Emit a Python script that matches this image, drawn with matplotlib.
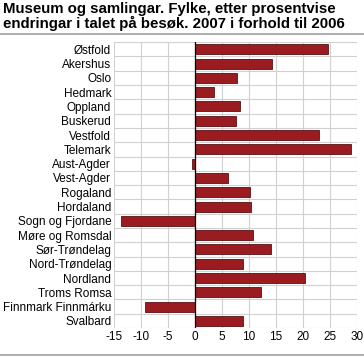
import numpy as np
import matplotlib
matplotlib.use("Agg")
import matplotlib.pyplot as plt
from matplotlib.lines import Line2D

plt.rcParams['font.family'] = ['Liberation Sans', 'DejaVu Sans']

# Data
fylke = ["Østfold", "Akershus", "Oslo", "Hedmark", "Oppland", "Buskerud",
         "Vestfold", "Telemark", "Aust-Agder", "Vest-Agder", "Rogaland",
         "Hordaland", "Sogn og Fjordane", "Møre og Romsdal", "Sør-Trøndelag",
         "Nord-Trøndelag", "Nordland", "Troms Romsa", "Finnmark Finnmárku",
         "Svalbard"]
endring = [24.7, 14.2, 7.8, 3.6, 8.3, 7.5, 23.0, 28.9, -0.5, 6.2, 10.1,
           10.4, -13.6, 10.8, 14.0, 8.8, 20.3, 12.3, -9.2, 8.9]
xticks = [-15, -10, -5, 0, 5, 10, 15, 20, 25, 30]

fig = plt.figure(figsize=(3.64, 3.57), dpi=100)
ax = fig.add_axes([0.313, 0.081, 0.668, 0.801])

y = np.arange(len(fylke))
ax.barh(y, endring, height=0.7, color="#9b1c20", edgecolor="#5a1012",
        linewidth=0.6, zorder=3)
ax.axvline(0, color="black", linewidth=0.9, zorder=4)

ax.set_ylim(len(fylke) - 0.5, -0.5)
ax.set_xlim(-15, 30)
ax.set_xticks(xticks)
ax.set_xticklabels([str(v) for v in xticks], fontsize=8.5)
ax.set_yticks(y)
ax.set_yticklabels(fylke, fontsize=8.5)

# grid: vertical at ticks, horizontal between categories
ax.set_yticks(np.arange(-0.5, len(fylke), 1), minor=True)
ax.grid(axis="x", which="major", color="#d0d0d0", linewidth=0.8, zorder=0)
ax.grid(axis="y", which="minor", color="#d0d0d0", linewidth=0.8, zorder=0)
ax.tick_params(which="both", length=0, pad=2)
for s in ax.spines.values():
    s.set_visible(False)

fig.text(0.008, 0.995, "Museum og samlingar. Fylke, etter prosentvise\n"
         "endringar i talet på besøk. 2007 i forhold til 2006",
         fontsize=10.8, fontweight="bold", va="top", ha="left", linespacing=1.05)
fig.add_artist(Line2D([0, 1], [0.905, 0.905], color="#a0a0a0", linewidth=1.2))
fig.add_artist(Line2D([0, 1], [0.006, 0.006], color="#a0a0a0", linewidth=1.2))

fig.savefig("out.png", dpi=100)
